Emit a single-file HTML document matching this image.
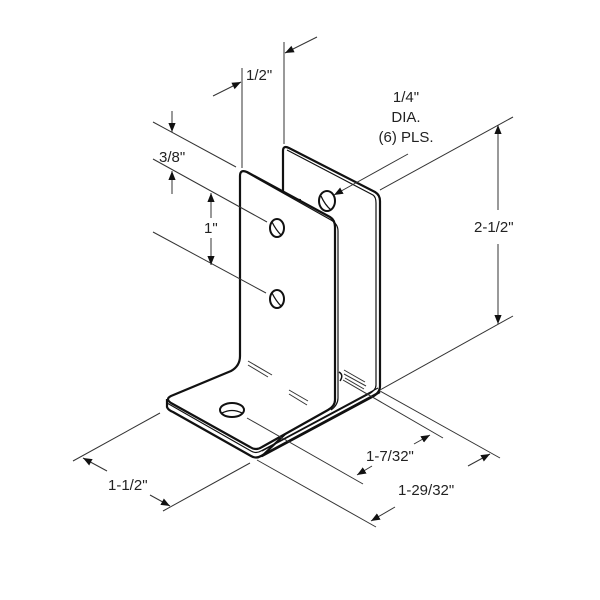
<!DOCTYPE html>
<html><head><style>html,body{margin:0;padding:0;background:#fff}svg{display:block}text{font-family:"Liberation Sans",Arial,sans-serif;font-size:15px;fill:#222}</style></head>
<body>
<svg width="600" height="600" viewBox="0 0 600 600" xmlns="http://www.w3.org/2000/svg">
<defs><marker id="a" viewBox="0 0 10 10" refX="10" refY="5" markerWidth="9" markerHeight="9" orient="auto-start-reverse" markerUnits="userSpaceOnUse"><path d="M0,1 L10,5 L0,9 z" fill="#111"/></marker></defs>
<g stroke="#111" stroke-width="2.2" fill="#fff" stroke-linejoin="round">
<path d="M283,200 L283,151 Q283,145 289,148 L375,192 Q380,195 380,201 L380,386 Q380,393 372,397 L262,456 L300,420 L300,200 Z"/>
<path d="M287,150 L373,195 Q376,197 376,203 L376,385 Q376,390 369,394 L262,451" fill="none" stroke-width="1.2"/>
<path d="M167,399 L167,407 Q168,410 173,412 L251,456 Q256,459 261,456 L380,392" fill="none"/>
<path d="M167,403 L251,451 Q256,454 261,451 L378,388" fill="none" stroke-width="1.2"/>
<path d="M240,176 Q240,169 247,172 L330,217 Q335,220 335,227 L335,400 Q335,406 328,410 L262,447 Q256,451 250,447 L171,403 Q165,399 171,396 L231,371 Q240,366 240,356 Z"/>
<path d="M244,171 L331,220 Q338,224 338,231 L338,398 Q338,405 331,410" fill="none" stroke-width="1.2"/>
</g>
<g stroke="#111" stroke-width="2" fill="#fff">
<ellipse cx="277" cy="228" rx="7" ry="9"/>
<ellipse cx="277" cy="299" rx="7" ry="9"/>
<ellipse cx="327" cy="201" rx="8" ry="10"/>
<ellipse cx="232" cy="410" rx="12" ry="7"/>
<path d="M272,222 Q276,230 281,235 M272,293 Q276,301 281,306 M321,196 Q325,205 331,210 M222,413 Q232,408 242,413" fill="none" stroke-width="1.3"/>
<path d="M339,372 Q344,375 340,381" fill="none" stroke-width="1.5"/>
</g>
<g stroke="#333" stroke-width="1">
<line x1="248" y1="361" x2="272" y2="375"/><line x1="248" y1="365" x2="268" y2="377"/>
<line x1="289" y1="390" x2="308" y2="401"/><line x1="289" y1="394" x2="307" y2="405"/>
<line x1="344" y1="370" x2="365" y2="382"/><line x1="344" y1="374" x2="366" y2="386"/><line x1="345" y1="378" x2="364" y2="389"/>
</g>
<g stroke="#333" stroke-width="1" fill="none">
<line x1="242" y1="68" x2="242" y2="168"/>
<line x1="284" y1="42" x2="284" y2="144"/>
<line x1="213" y1="96" x2="241" y2="82" marker-end="url(#a)"/>
<line x1="317" y1="37" x2="285" y2="53" marker-end="url(#a)"/>
<line x1="153" y1="122" x2="236" y2="167"/>
<line x1="153" y1="159" x2="267" y2="222"/>
<line x1="153" y1="232" x2="266" y2="293"/>
<line x1="172" y1="111" x2="172" y2="132" marker-end="url(#a)"/>
<line x1="172" y1="194" x2="172" y2="171" marker-end="url(#a)"/>
<line x1="211" y1="218" x2="211" y2="193" marker-end="url(#a)"/>
<line x1="211" y1="238" x2="211" y2="265" marker-end="url(#a)"/>
<line x1="408" y1="154" x2="334" y2="195" marker-end="url(#a)"/>
<line x1="380" y1="190" x2="513" y2="117"/>
<line x1="380" y1="390" x2="513" y2="316"/>
<line x1="498" y1="210" x2="498" y2="125" marker-end="url(#a)"/>
<line x1="498" y1="244" x2="498" y2="324" marker-end="url(#a)"/>
<line x1="247" y1="418" x2="363" y2="484"/>
<line x1="343" y1="380" x2="443" y2="438"/>
<line x1="372" y1="466" x2="357" y2="475" marker-end="url(#a)"/>
<line x1="414" y1="444" x2="430" y2="435" marker-end="url(#a)"/>
<line x1="380" y1="391" x2="500" y2="458"/>
<line x1="257" y1="460" x2="376" y2="527"/>
<line x1="395" y1="507" x2="371" y2="521" marker-end="url(#a)"/>
<line x1="468" y1="466" x2="490" y2="454" marker-end="url(#a)"/>
<line x1="160" y1="413" x2="73" y2="461"/>
<line x1="250" y1="463" x2="163" y2="511"/>
<line x1="107" y1="471" x2="83" y2="458" marker-end="url(#a)"/>
<line x1="150" y1="495" x2="170" y2="506" marker-end="url(#a)"/>
</g>
<text x="246" y="80">1/2"</text>
<text x="159" y="162">3/8"</text>
<text x="204" y="233">1"</text>
<text x="406" y="102" text-anchor="middle">1/4"</text>
<text x="406" y="122" text-anchor="middle">DIA.</text>
<text x="406" y="142" text-anchor="middle">(6) PLS.</text>
<text x="474" y="232">2-1/2"</text>
<text x="366" y="461">1-7/32"</text>
<text x="398" y="495">1-29/32"</text>
<text x="108" y="490">1-1/2"</text>
</svg>
</body></html>
